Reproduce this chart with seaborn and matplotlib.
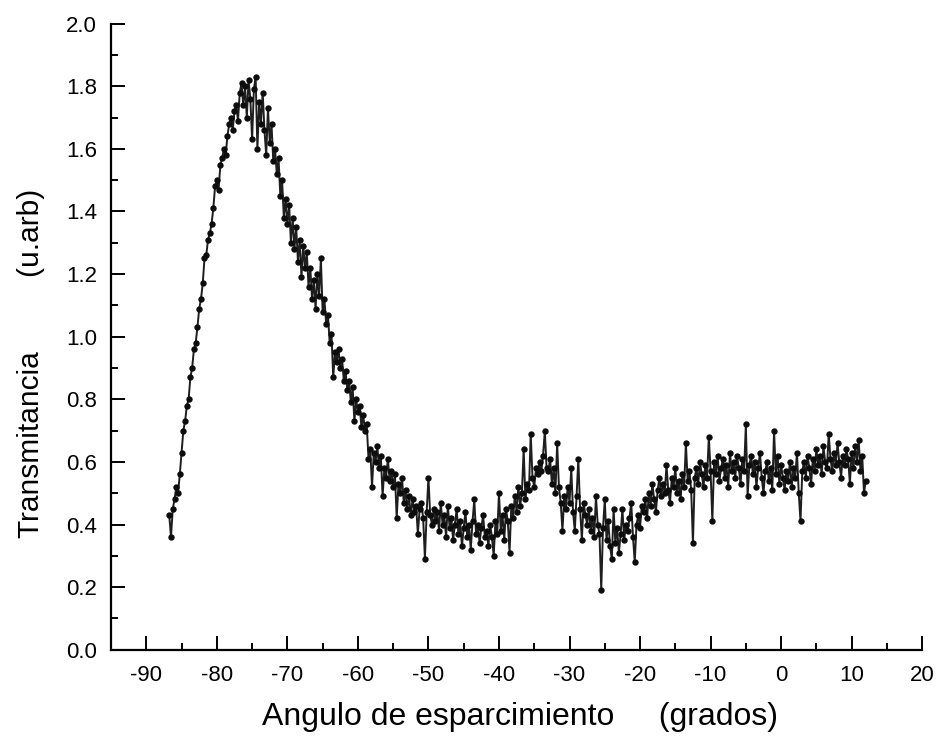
import numpy as np
import pandas as pd
import matplotlib
matplotlib.use("Agg")
import matplotlib.pyplot as plt
from matplotlib.ticker import MultipleLocator
import seaborn as sns

# Scattering-angle scan: one reading every 0.25 degrees from -86.75 to 12.0
ANGLE_START = -86.75
ANGLE_STEP = 0.25

transmitancia = [
    # -86.75 .. -82.0
    0.43, 0.36, 0.45, 0.48, 0.52, 0.50, 0.56, 0.63, 0.70, 0.73,
    0.78, 0.80, 0.87, 0.90, 0.96, 0.98, 1.03, 1.09, 1.12, 1.17,
    # -81.75 .. -77.0
    1.25, 1.26, 1.31, 1.33, 1.36, 1.41, 1.48, 1.50, 1.47, 1.55,
    1.57, 1.60, 1.58, 1.64, 1.68, 1.70, 1.66, 1.72, 1.74, 1.69,
    # -76.75 .. -72.0
    1.78, 1.81, 1.74, 1.80, 1.70, 1.82, 1.76, 1.63, 1.79, 1.83,
    1.60, 1.75, 1.68, 1.78, 1.66, 1.58, 1.73, 1.62, 1.68, 1.56,
    # -71.75 .. -67.0
    1.60, 1.52, 1.57, 1.45, 1.50, 1.38, 1.44, 1.36, 1.42, 1.30,
    1.38, 1.28, 1.35, 1.24, 1.31, 1.19, 1.29, 1.22, 1.27, 1.16,
    # -66.75 .. -62.0
    1.22, 1.12, 1.18, 1.09, 1.20, 1.13, 1.25, 1.08, 1.12, 1.04,
    1.07, 0.98, 1.01, 0.87, 0.95, 0.92, 0.96, 0.90, 0.93, 0.86,
    # -61.75 .. -57.0
    0.89, 0.83, 0.86, 0.79, 0.84, 0.73, 0.80, 0.76, 0.78, 0.71,
    0.75, 0.70, 0.72, 0.61, 0.64, 0.52, 0.63, 0.60, 0.65, 0.58,
    # -56.75 .. -52.0
    0.62, 0.49, 0.58, 0.55, 0.61, 0.54, 0.57, 0.52, 0.56, 0.42,
    0.53, 0.50, 0.55, 0.47, 0.51, 0.45, 0.49, 0.43, 0.48, 0.44,
    # -51.75 .. -47.0
    0.46, 0.37, 0.45, 0.47, 0.42, 0.29, 0.44, 0.55, 0.43, 0.40,
    0.45, 0.41, 0.44, 0.38, 0.47, 0.40, 0.43, 0.36, 0.46, 0.39,
    # -46.75 .. -42.0
    0.42, 0.35, 0.40, 0.45, 0.37, 0.41, 0.33, 0.39, 0.44, 0.36,
    0.40, 0.32, 0.41, 0.48, 0.37, 0.40, 0.34, 0.39, 0.43, 0.36,
    # -41.75 .. -37.0
    0.38, 0.33, 0.40, 0.36, 0.30, 0.41, 0.37, 0.50, 0.38, 0.43,
    0.35, 0.45, 0.41, 0.31, 0.46, 0.42, 0.49, 0.44, 0.52, 0.46,
    # -36.75 .. -32.0
    0.50, 0.64, 0.48, 0.53, 0.51, 0.69, 0.55, 0.52, 0.58, 0.56,
    0.60, 0.57, 0.62, 0.70, 0.58, 0.57, 0.61, 0.53, 0.58, 0.50,
    # -31.75 .. -27.0
    0.66, 0.52, 0.47, 0.38, 0.49, 0.45, 0.52, 0.47, 0.58, 0.44,
    0.38, 0.49, 0.61, 0.45, 0.35, 0.47, 0.43, 0.40, 0.45, 0.38,
    # -26.75 .. -22.0
    0.42, 0.36, 0.49, 0.40, 0.37, 0.19, 0.39, 0.48, 0.35, 0.41,
    0.33, 0.29, 0.45, 0.34, 0.39, 0.31, 0.37, 0.45, 0.35, 0.40,
    # -21.75 .. -17.0
    0.38, 0.42, 0.47, 0.36, 0.28, 0.40, 0.43, 0.39, 0.46, 0.44,
    0.48, 0.42, 0.50, 0.46, 0.53, 0.48, 0.44, 0.51, 0.55, 0.49,
    # -16.75 .. -12.0
    0.53, 0.50, 0.59, 0.51, 0.47, 0.55, 0.52, 0.58, 0.50, 0.54,
    0.48, 0.56, 0.52, 0.66, 0.54, 0.57, 0.51, 0.34, 0.55, 0.58,
    # -11.75 .. -7.0
    0.53, 0.60, 0.56, 0.52, 0.59, 0.55, 0.68, 0.57, 0.41, 0.60,
    0.56, 0.62, 0.54, 0.58, 0.61, 0.55, 0.59, 0.52, 0.63, 0.57,
    # -6.75 .. -2.0
    0.60, 0.55, 0.62, 0.58, 0.53, 0.61, 0.57, 0.72, 0.49, 0.59,
    0.62, 0.56, 0.60, 0.52, 0.58, 0.63, 0.55, 0.50, 0.57, 0.60,
    # -1.75 .. 3.0
    0.54, 0.58, 0.51, 0.70, 0.56, 0.62, 0.53, 0.59, 0.55, 0.51,
    0.57, 0.54, 0.60, 0.52, 0.58, 0.55, 0.63, 0.50, 0.41, 0.57,
    # 3.25 .. 8.0
    0.60, 0.55, 0.62, 0.58, 0.53, 0.61, 0.57, 0.64, 0.59, 0.62,
    0.56, 0.65, 0.60, 0.58, 0.69, 0.61, 0.57, 0.63, 0.59, 0.66,
    # 8.25 .. 12.0
    0.60, 0.55, 0.62, 0.59, 0.64, 0.61, 0.53, 0.63, 0.58, 0.65,
    0.60, 0.67, 0.57, 0.62, 0.50, 0.54,
]

angulo = np.round(ANGLE_START + ANGLE_STEP * np.arange(len(transmitancia)), 2)

x_ticks = [-90, -80, -70, -60, -50, -40, -30, -20, -10, 0, 10, 20]
y_ticks = [0.0, 0.2, 0.4, 0.6, 0.8, 1.0, 1.2, 1.4, 1.6, 1.8, 2.0]

df = pd.DataFrame({"angulo": angulo, "transmitancia": transmitancia})

sns.set_theme(style="ticks")
plt.rcParams["font.family"] = ["Liberation Sans", "DejaVu Sans"]

fig = plt.figure(figsize=(9.41, 7.40), dpi=100)
ax = fig.add_axes([0.118, 0.122, 0.862, 0.846])

sns.lineplot(data=df, x="angulo", y="transmitancia", ax=ax, sort=False,
             estimator=None, color="#1e1e1e", linewidth=1.4,
             marker="o", markersize=4.6, markeredgewidth=0,
             markerfacecolor="#0d0d0d")

ax.set_xlim(-95, 20)
ax.set_ylim(0.0, 2.0)
ax.set_xticks(x_ticks)
ax.set_xticklabels([str(t) for t in x_ticks])
ax.set_yticks(y_ticks)
ax.set_yticklabels([f"{t:.1f}" for t in y_ticks])
ax.xaxis.set_minor_locator(MultipleLocator(5))
ax.yaxis.set_minor_locator(MultipleLocator(0.1))

ax.tick_params(axis="both", which="major", direction="in", length=10,
               width=1.4, colors="black", labelsize=16)
ax.tick_params(axis="both", which="minor", direction="in", length=5,
               width=1.4, colors="black")
ax.tick_params(axis="x", which="major", pad=11)
ax.tick_params(axis="y", which="major", pad=10)

for side in ("top", "right"):
    ax.spines[side].set_visible(False)
for side in ("left", "bottom"):
    ax.spines[side].set_linewidth(1.6)
    ax.spines[side].set_color("black")

ax.set_xlabel("Angulo de esparcimiento     (grados)", fontsize=23,
              color="black")
ax.xaxis.set_label_coords(0.504, -0.083, transform=ax.transAxes)
ax.xaxis.label.set_va("top")
ax.set_ylabel("Transmitancia         (u.arb)", fontsize=21.5, color="black")
ax.yaxis.set_label_coords(-0.081, 0.457, transform=ax.transAxes)
ax.grid(False)

fig.savefig("out.png", dpi=100, facecolor="white")
